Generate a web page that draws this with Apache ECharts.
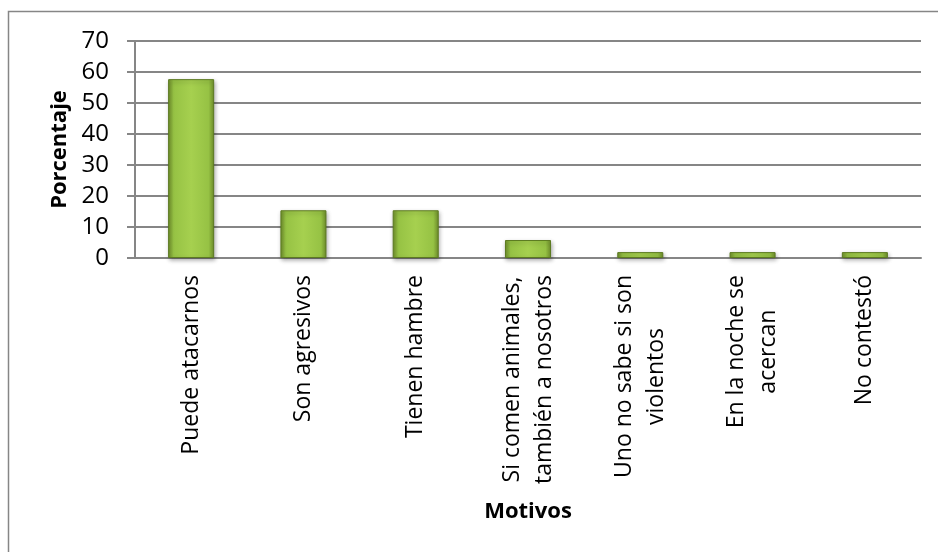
<!DOCTYPE html>
<html>
<head>
<meta charset="utf-8">
<script src="https://cdn.jsdelivr.net/npm/echarts@6/dist/echarts.min.js"></script>
<style>
html,body{margin:0;padding:0;background:#fff;}
#chart{width:938px;height:552px;}
</style>
</head>
<body>
<div id="chart"></div>
<script>
const categories = [
  'Puede atacarnos',
  'Son agresivos',
  'Tienen hambre',
  'Si comen animales,\ntambién a nosotros',
  'Uno no sabe si son\nviolentos',
  'En la noche se\nacercan',
  'No contestó'
];
const values = [57.7, 15.4, 15.4, 5.8, 1.9, 1.9, 1.9];
const yTicks = [0, 10, 20, 30, 40, 50, 60, 70];
const yAxisTitle = 'Porcentaje';
const xAxisTitle = 'Motivos';

const FONT = 'Open Sans';
const chart = echarts.init(document.getElementById('chart'));
const barColor = new echarts.graphic.LinearGradient(0, 0, 1, 0, [
  {offset: 0, color: '#6f8e2b'},
  {offset: 0.12, color: '#96c244'},
  {offset: 0.5, color: '#a6d04f'},
  {offset: 0.88, color: '#96c244'},
  {offset: 1, color: '#6f8e2b'}
]);
chart.setOption({
  backgroundColor: '#ffffff',
  animation: false,
  graphic: [{
    type: 'rect', silent: true, z: -1,
    shape: {x: 8.5, y: 11.5, width: 960, height: 600},
    style: {fill: 'none', stroke: '#868686', lineWidth: 1.5}
  }],
  grid: {left: 135, right: 17, top: 41, bottom: 294, containLabel: false},
  xAxis: {
    type: 'category',
    data: categories,
    name: xAxisTitle,
    nameLocation: 'middle',
    nameGap: 243,
    nameTextStyle: {fontFamily: FONT, fontWeight: 'bold', fontSize: 22, color: '#000'},
    axisLine: {show: true, lineStyle: {color: '#868686', width: 2}},
    axisTick: {show: false},
    axisLabel: {
      rotate: 90,
      interval: 0,
      margin: 17,
      fontFamily: FONT,
      fontSize: 23,
      lineHeight: 32,
      color: '#000',
      formatter: function (v) {
        return v.split('\n').map(function (s) { return '{c|' + s + '}'; }).join('\n');
      },
      rich: {c: {align: 'center', fontFamily: FONT, fontSize: 23, lineHeight: 32, color: '#000'}}
    }
  },
  yAxis: {
    type: 'value',
    min: 0, max: 70, interval: 10,
    name: yAxisTitle,
    nameLocation: 'middle',
    nameGap: 64,
    nameRotate: 90,
    nameTextStyle: {fontFamily: FONT, fontWeight: 'bold', fontSize: 22, color: '#000'},
    axisLine: {show: true, lineStyle: {color: '#868686', width: 2}},
    axisTick: {show: true, length: 8, lineStyle: {color: '#868686', width: 2}},
    splitLine: {show: true, lineStyle: {color: '#868686', width: 2}},
    axisLabel: {
      margin: 26,
      fontFamily: FONT, fontSize: 24, color: '#000',
      formatter: function (v) { return yTicks.indexOf(v) >= 0 ? String(v) : ''; }
    }
  },
  series: [{
    type: 'bar',
    data: values,
    barWidth: '41%',
    itemStyle: {
      color: barColor,
      borderColor: '#5c7a20',
      borderWidth: 1,
      shadowColor: 'rgba(0,0,0,0.3)',
      shadowBlur: 4,
      shadowOffsetX: 1,
      shadowOffsetY: 2
    }
  }]
});
</script>
</body>
</html>
